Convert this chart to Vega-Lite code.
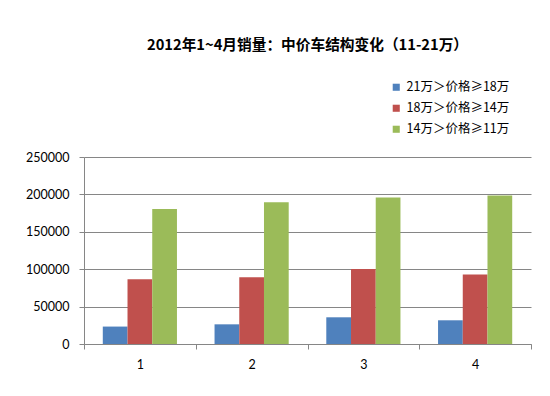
{
  "$schema": "https://vega.github.io/schema/vega-lite/v6.json",
  "width": 447,
  "height": 187,
  "autosize": "none",
  "padding": {"left": 84, "top": 157, "right": 19, "bottom": 52},
  "background": "white",
  "title": {
    "text": "2012年1~4月销量：中价车结构变化（11-21万）",
    "font": "Noto Sans CJK SC",
    "fontSize": 14.7,
    "fontWeight": "bold",
    "color": "#000000",
    "anchor": "middle",
    "offset": 28
  },
  "data": {
    "values": [
      {"month": "1", "series": "21万＞价格≥18万", "value": 23300},
      {"month": "1", "series": "18万＞价格≥14万", "value": 86500},
      {"month": "1", "series": "14万＞价格≥11万", "value": 180500},
      {"month": "2", "series": "21万＞价格≥18万", "value": 26300},
      {"month": "2", "series": "18万＞价格≥14万", "value": 89200},
      {"month": "2", "series": "14万＞价格≥11万", "value": 189500},
      {"month": "3", "series": "21万＞价格≥18万", "value": 35700},
      {"month": "3", "series": "18万＞价格≥14万", "value": 100200},
      {"month": "3", "series": "14万＞价格≥11万", "value": 196000},
      {"month": "4", "series": "21万＞价格≥18万", "value": 31700},
      {"month": "4", "series": "18万＞价格≥14万", "value": 92800},
      {"month": "4", "series": "14万＞价格≥11万", "value": 198500}
    ]
  },
  "mark": {"type": "bar"},
  "encoding": {
    "x": {
      "field": "month",
      "type": "ordinal",
      "scale": {"paddingInner": 0, "paddingOuter": 0},
      "axis": {
        "title": null,
        "labelAngle": 0,
        "labelFont": "Lato",
        "labelFontSize": 12.5,
        "labelColor": "#000000",
        "labelPadding": 9,
        "domainColor": "#868686",
        "tickColor": "#868686",
        "tickBand": "extent",
        "tickSize": 5,
        "grid": false
      }
    },
    "xOffset": {
      "field": "series",
      "type": "nominal",
      "sort": ["21万＞价格≥18万", "18万＞价格≥14万", "14万＞价格≥11万"],
      "scale": {"paddingInner": 0, "paddingOuter": 0.76}
    },
    "y": {
      "field": "value",
      "type": "quantitative",
      "scale": {"domain": [0, 250000], "nice": false},
      "axis": {
        "title": null,
        "values": [0, 50000, 100000, 150000, 200000, 250000],
        "format": "d",
        "labelFont": "Lato",
        "labelFontSize": 12.5,
        "labelColor": "#000000",
        "labelPadding": 10,
        "domainColor": "#868686",
        "tickColor": "#868686",
        "tickSize": 5,
        "gridColor": "#868686",
        "gridWidth": 1
      }
    },
    "color": {
      "field": "series",
      "type": "nominal",
      "sort": ["21万＞价格≥18万", "18万＞价格≥14万", "14万＞价格≥11万"],
      "scale": {
        "domain": ["21万＞价格≥18万", "18万＞价格≥14万", "14万＞价格≥11万"],
        "range": ["#4F81BD", "#C0504D", "#9BBB59"]
      },
      "legend": {
        "title": null,
        "orient": "none",
        "legendX": 306,
        "legendY": -76,
        "symbolType": "square",
        "symbolSize": 50,
        "symbolStrokeWidth": 0,
        "labelFont": "Noto Sans CJK SC",
        "labelFontSize": 12.5,
        "labelColor": "#000000",
        "rowPadding": 8,
        "labelOffset": 4
      }
    }
  },
  "config": {
    "view": {"stroke": null}
  }
}
